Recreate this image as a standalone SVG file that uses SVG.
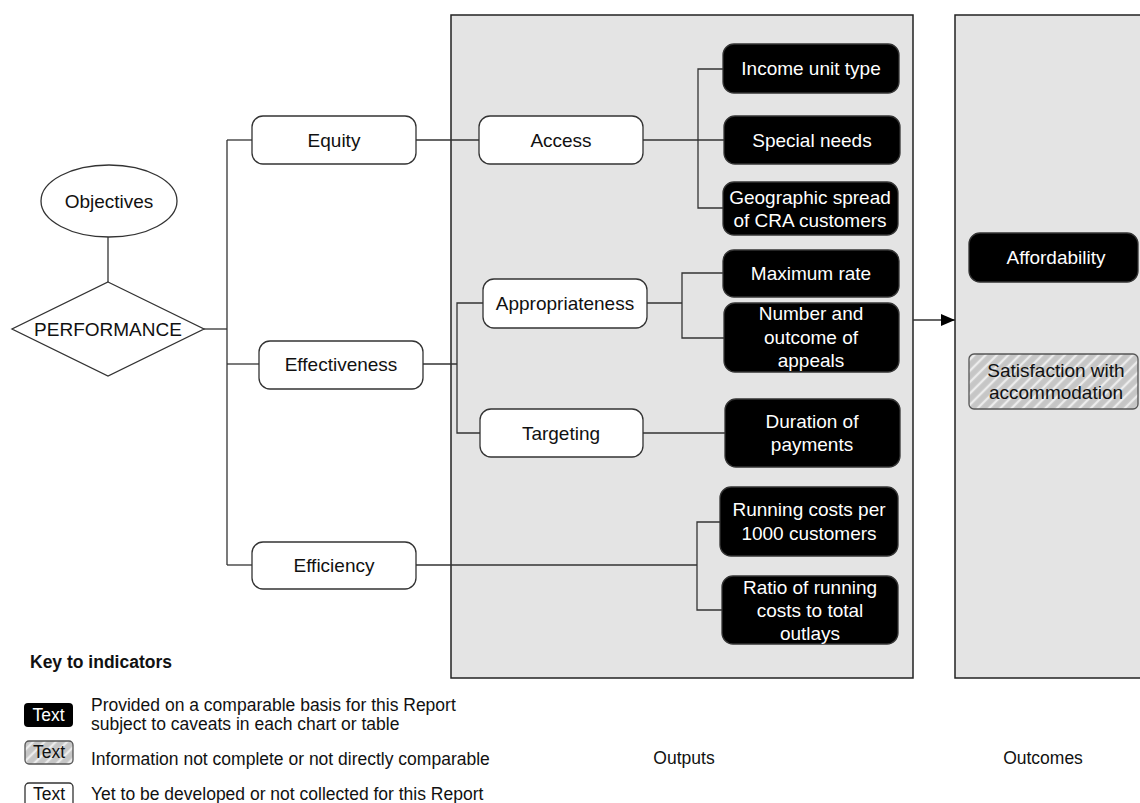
<svg xmlns="http://www.w3.org/2000/svg" width="1140" height="803" viewBox="0 0 1140 803">
  <defs>
    <pattern id="hatch" width="8" height="8" patternUnits="userSpaceOnUse" patternTransform="rotate(45)">
      <rect width="8" height="8" fill="#c6c6c6"/>
      <line x1="4" y1="0" x2="4" y2="8" stroke="#ececec" stroke-width="2.4"/>
    </pattern>
    <marker id="arrow" viewBox="0 0 14 12" refX="14" refY="6" markerWidth="14" markerHeight="12" markerUnits="userSpaceOnUse" orient="auto">
      <path d="M0,0 L14,6 L0,12 Z" fill="#000"/>
    </marker>
  </defs>
  <style>
    text { font-family: "Liberation Sans", Arial, sans-serif; font-size: 19px; text-anchor: middle; fill: #111; }
    .inv { fill: #fff; }
    .legend { font-size: 17.5px; text-anchor: start; }
    .key { font-size: 17.5px; font-weight: bold; text-anchor: start; }
    .caption { font-size: 17.5px; }
    .panel { fill: #e4e4e4; stroke: #222; stroke-width: 1.5; }
    .open { fill: #fff; stroke: #333; stroke-width: 1.3; }
    .solid { fill: #000; stroke: #333; stroke-width: 1.3; }
    .hatched { fill: url(#hatch); stroke: #555; stroke-width: 1.3; }
    .shape { fill: #fff; stroke: #333; stroke-width: 1.3; }
    .wire { fill: none; stroke: #333; stroke-width: 1.3; }
  </style>

  <!-- background panels -->
  <g id="outputs-panel">
    <rect class="panel" x="451" y="15" width="462" height="663"/>
    <text class="caption" x="684" y="764">Outputs</text>
  </g>
  <g id="outcomes-panel">
    <rect class="panel" x="955" y="15" width="200" height="663"/>
    <text class="caption" x="1043" y="764">Outcomes</text>
  </g>

  <!-- connectors -->
  <g id="connectors" class="wire">
    <line x1="108" y1="237" x2="108" y2="282"/>
    <polyline points="204,329 227,329"/>
    <line x1="227" y1="140" x2="227" y2="565"/>
    <line x1="227" y1="140" x2="252" y2="140"/>
    <line x1="227" y1="364" x2="259" y2="364"/>
    <line x1="227" y1="565" x2="252" y2="565"/>
    <!-- equity branch -->
    <line x1="416" y1="140" x2="479" y2="140"/>
    <line x1="643" y1="140" x2="724" y2="140"/>
    <polyline points="723,69 698,69 698,208 723,208"/>
    <!-- effectiveness branch -->
    <line x1="423" y1="364" x2="457" y2="364"/>
    <polyline points="483,303 457,303 457,433 480,433"/>
    <line x1="647" y1="303" x2="682" y2="303"/>
    <polyline points="723,273 682,273 682,338 724,338"/>
    <line x1="643" y1="433" x2="725" y2="433"/>
    <!-- efficiency branch -->
    <line x1="416" y1="565" x2="697" y2="565"/>
    <polyline points="720,522 697,522 697,610 722,610"/>
    <!-- outputs to outcomes -->
    <line x1="913" y1="320" x2="955" y2="320" marker-end="url(#arrow)"/>
  </g>

  <!-- objectives -->
  <g id="objectives">
    <ellipse class="shape" cx="109" cy="201" rx="68" ry="36"/>
    <text x="109" y="208">Objectives</text>
  </g>
  <g id="performance">
    <polygon class="shape" points="108,282 204,329 108,376 12,329"/>
    <text x="108" y="336">PERFORMANCE</text>
  </g>

  <!-- performance dimensions -->
  <g id="equity">
    <rect class="open" x="252" y="116" width="164" height="48" rx="11"/>
    <text x="334" y="147">Equity</text>
  </g>
  <g id="effectiveness">
    <rect class="open" x="259" y="341" width="164" height="48" rx="11"/>
    <text x="341" y="371">Effectiveness</text>
  </g>
  <g id="efficiency">
    <rect class="open" x="252" y="542" width="164" height="47" rx="11"/>
    <text x="334" y="572">Efficiency</text>
  </g>

  <!-- sub-dimensions -->
  <g id="access">
    <rect class="open" x="479" y="116" width="164" height="48" rx="11"/>
    <text x="561" y="147">Access</text>
  </g>
  <g id="appropriateness">
    <rect class="open" x="483" y="279" width="164" height="49" rx="11"/>
    <text x="565" y="310">Appropriateness</text>
  </g>
  <g id="targeting">
    <rect class="open" x="480" y="409" width="163" height="48" rx="11"/>
    <text x="561" y="440">Targeting</text>
  </g>

  <!-- output indicators -->
  <g id="income-unit-type">
    <rect class="solid" x="723" y="44" width="176" height="49" rx="11"/>
    <text class="inv" x="811" y="75">Income unit type</text>
  </g>
  <g id="special-needs">
    <rect class="solid" x="724" y="116" width="176" height="48" rx="11"/>
    <text class="inv" x="812" y="147">Special needs</text>
  </g>
  <g id="geographic-spread">
    <rect class="solid" x="723" y="182" width="175" height="53" rx="11"/>
    <text class="inv" x="810" y="204">Geographic spread</text>
    <text class="inv" x="810" y="227">of CRA customers</text>
  </g>
  <g id="maximum-rate">
    <rect class="solid" x="723" y="250" width="176" height="47" rx="11"/>
    <text class="inv" x="811" y="280">Maximum rate</text>
  </g>
  <g id="appeals">
    <rect class="solid" x="724" y="303" width="175" height="69" rx="11"/>
    <text class="inv" x="811" y="320">Number and</text>
    <text class="inv" x="811" y="344">outcome of</text>
    <text class="inv" x="811" y="367">appeals</text>
  </g>
  <g id="duration-of-payments">
    <rect class="solid" x="725" y="399" width="175" height="68" rx="11"/>
    <text class="inv" x="812" y="428">Duration of</text>
    <text class="inv" x="812" y="451">payments</text>
  </g>
  <g id="running-costs">
    <rect class="solid" x="720" y="487" width="178" height="69" rx="11"/>
    <text class="inv" x="809" y="516">Running costs per</text>
    <text class="inv" x="809" y="540">1000 customers</text>
  </g>
  <g id="running-cost-ratio">
    <rect class="solid" x="722" y="576" width="176" height="68" rx="11"/>
    <text class="inv" x="810" y="594">Ratio of running</text>
    <text class="inv" x="810" y="617">costs to total</text>
    <text class="inv" x="810" y="640">outlays</text>
  </g>

  <!-- outcome indicators -->
  <g id="affordability">
    <rect class="solid" x="969" y="233" width="169" height="49" rx="11"/>
    <text class="inv" x="1056" y="264">Affordability</text>
  </g>
  <g id="satisfaction">
    <rect class="hatched" x="969" y="354" width="169" height="55" rx="5"/>
    <text x="1056" y="377">Satisfaction with</text>
    <text x="1056" y="399">accommodation</text>
  </g>

  <!-- key -->
  <g id="key">
    <text class="key" x="30" y="668">Key to indicators</text>
    <rect x="24" y="703" width="49" height="24" rx="4" fill="#000"/>
    <text class="caption inv" x="48.5" y="721">Text</text>
    <text class="legend" x="91" y="711">Provided on a comparable basis for this Report</text>
    <text class="legend" x="91" y="730">subject to caveats in each chart or table</text>
    <rect class="hatched" x="25" y="741" width="48" height="23" rx="4"/>
    <text class="caption" x="49" y="758">Text</text>
    <text class="legend" x="91" y="765">Information not complete or not directly comparable</text>
    <rect class="open" x="25" y="783" width="48" height="24" rx="4"/>
    <text class="caption" x="49" y="800">Text</text>
    <text class="legend" x="91" y="800">Yet to be developed or not collected for this Report</text>
  </g>
</svg>
